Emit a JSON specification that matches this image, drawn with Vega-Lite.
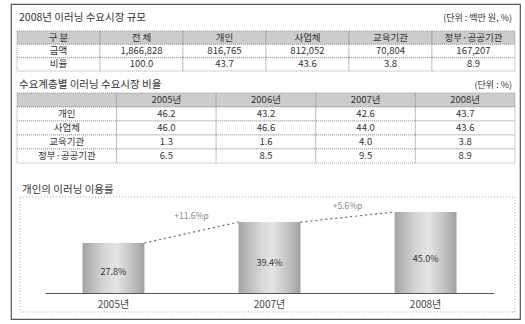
{
  "$schema": "https://vega.github.io/schema/vega-lite/v6.json",
  "width": 509,
  "height": 315,
  "autosize": "none",
  "padding": {"left": 11, "top": 4, "right": 5, "bottom": 5},
  "background": "white",
  "config": {
    "view": {"stroke": "#555555", "strokeWidth": 1.2},
    "font": "Noto Sans CJK KR",
    "text": {"font": "Noto Sans CJK KR", "color": "#333333"}
  },
  "resolve": {"scale": {"x": "independent", "y": "independent"}},
  "layer": [
    {
      "data": {"values": [
        {"r": "title", "c": "구분", "t": "2008년 이러닝 수요시장 규모", "k": "title"},
        {"r": "title", "c": "정부·공공기관", "t": "(단위 : 백만 원, %)", "k": "unit"},
        {"r": "head", "c": "구분", "t": "구 분", "k": "cell"},
        {"r": "head", "c": "전체", "t": "전 체", "k": "cell"},
        {"r": "head", "c": "개인", "t": "개인", "k": "cell"},
        {"r": "head", "c": "사업체", "t": "사업체", "k": "cell"},
        {"r": "head", "c": "교육기관", "t": "교육기관", "k": "cell"},
        {"r": "head", "c": "정부·공공기관", "t": "정부·공공기관", "k": "cell"},
        {"r": "금액", "c": "구분", "t": "금액", "k": "cell"},
        {"r": "금액", "c": "전체", "t": "1,866,828", "k": "cell"},
        {"r": "금액", "c": "개인", "t": "816,765", "k": "cell"},
        {"r": "금액", "c": "사업체", "t": "812,052", "k": "cell"},
        {"r": "금액", "c": "교육기관", "t": "70,804", "k": "cell"},
        {"r": "금액", "c": "정부·공공기관", "t": "167,207", "k": "cell"},
        {"r": "비율", "c": "구분", "t": "비율", "k": "cell"},
        {"r": "비율", "c": "전체", "t": "100.0", "k": "cell"},
        {"r": "비율", "c": "개인", "t": "43.7", "k": "cell"},
        {"r": "비율", "c": "사업체", "t": "43.6", "k": "cell"},
        {"r": "비율", "c": "교육기관", "t": "3.8", "k": "cell"},
        {"r": "비율", "c": "정부·공공기관", "t": "8.9", "k": "cell"}
      ]},
      "encoding": {
        "x": {"field": "c", "type": "nominal", "axis": null,
              "scale": {"domain": ["구분", "전체", "개인", "사업체", "교육기관", "정부·공공기관"], "range": [6, 504], "paddingInner": 0, "paddingOuter": 0}},
        "y": {"field": "r", "type": "nominal", "axis": null,
              "scale": {"domain": ["title", "head", "금액", "비율"], "range": [13.7, 67], "paddingInner": 0, "paddingOuter": 0}}
      },
      "layer": [
        {
          "transform": [{"filter": "datum.k === 'cell'"}],
          "mark": {"type": "rect", "stroke": "#888888", "strokeWidth": 0.8, "strokeDash": [1, 1]},
          "encoding": {"fill": {"condition": {"test": "datum.r === 'head'", "value": "#cccccc"}, "value": "#ffffff"}}
        },
        {
          "transform": [{"filter": "datum.k === 'cell'"}],
          "mark": {"type": "text", "fontSize": 9.5},
          "encoding": {"text": {"field": "t"}}
        },
        {
          "transform": [{"filter": "datum.k === 'title'"}],
          "mark": {"type": "text", "align": "left", "dx": 2, "dy": -6, "fontSize": 10.5},
          "encoding": {"x": {"field": "c", "type": "nominal", "bandPosition": 0}, "text": {"field": "t"}}
        },
        {
          "transform": [{"filter": "datum.k === 'unit'"}],
          "mark": {"type": "text", "align": "right", "dx": -3, "dy": -6, "fontSize": 9},
          "encoding": {"x": {"field": "c", "type": "nominal", "bandPosition": 1}, "text": {"field": "t"}}
        }
      ]
    },
    {
      "data": {"values": [
        {"r": "title", "c": "구분", "t": "수요계층별 이러닝 수요시장 비율", "k": "title"},
        {"r": "title", "c": "2008년", "t": "(단위 : %)", "k": "unit"},
        {"r": "head", "c": "구분", "t": "", "k": "cell"},
        {"r": "head", "c": "2005년", "t": "2005년", "k": "cell"},
        {"r": "head", "c": "2006년", "t": "2006년", "k": "cell"},
        {"r": "head", "c": "2007년", "t": "2007년", "k": "cell"},
        {"r": "head", "c": "2008년", "t": "2008년", "k": "cell"},
        {"r": "개인", "c": "구분", "t": "개인", "k": "cell"},
        {"r": "개인", "c": "2005년", "t": "46.2", "k": "cell"},
        {"r": "개인", "c": "2006년", "t": "43.2", "k": "cell"},
        {"r": "개인", "c": "2007년", "t": "42.6", "k": "cell"},
        {"r": "개인", "c": "2008년", "t": "43.7", "k": "cell"},
        {"r": "사업체", "c": "구분", "t": "사업체", "k": "cell"},
        {"r": "사업체", "c": "2005년", "t": "46.0", "k": "cell"},
        {"r": "사업체", "c": "2006년", "t": "46.6", "k": "cell"},
        {"r": "사업체", "c": "2007년", "t": "44.0", "k": "cell"},
        {"r": "사업체", "c": "2008년", "t": "43.6", "k": "cell"},
        {"r": "교육기관", "c": "구분", "t": "교육기관", "k": "cell"},
        {"r": "교육기관", "c": "2005년", "t": "1.3", "k": "cell"},
        {"r": "교육기관", "c": "2006년", "t": "1.6", "k": "cell"},
        {"r": "교육기관", "c": "2007년", "t": "4.0", "k": "cell"},
        {"r": "교육기관", "c": "2008년", "t": "3.8", "k": "cell"},
        {"r": "정부·공공기관", "c": "구분", "t": "정부·공공기관", "k": "cell"},
        {"r": "정부·공공기관", "c": "2005년", "t": "6.5", "k": "cell"},
        {"r": "정부·공공기관", "c": "2006년", "t": "8.5", "k": "cell"},
        {"r": "정부·공공기관", "c": "2007년", "t": "9.5", "k": "cell"},
        {"r": "정부·공공기관", "c": "2008년", "t": "8.9", "k": "cell"}
      ]},
      "encoding": {
        "x": {"field": "c", "type": "nominal", "axis": null,
              "scale": {"domain": ["구분", "2005년", "2006년", "2007년", "2008년"], "range": [6, 504], "paddingInner": 0, "paddingOuter": 0}},
        "y": {"field": "r", "type": "nominal", "axis": null,
              "scale": {"domain": ["title", "head", "개인", "사업체", "교육기관", "정부·공공기관"], "range": [75, 159], "paddingInner": 0, "paddingOuter": 0}}
      },
      "layer": [
        {
          "transform": [{"filter": "datum.k === 'cell'"}],
          "mark": {"type": "rect", "stroke": "#888888", "strokeWidth": 0.8, "strokeDash": [1, 1]},
          "encoding": {"fill": {"condition": {"test": "datum.r === 'head'", "value": "#cccccc"}, "value": "#ffffff"}}
        },
        {
          "transform": [{"filter": "datum.k === 'cell'"}],
          "mark": {"type": "text", "fontSize": 9.5},
          "encoding": {"text": {"field": "t"}}
        },
        {
          "transform": [{"filter": "datum.k === 'title'"}],
          "mark": {"type": "text", "align": "left", "dx": 2, "dy": -1, "fontSize": 10.5},
          "encoding": {"x": {"field": "c", "type": "nominal", "bandPosition": 0}, "text": {"field": "t"}}
        },
        {
          "transform": [{"filter": "datum.k === 'unit'"}],
          "mark": {"type": "text", "align": "right", "dx": -3, "dy": -1, "fontSize": 9},
          "encoding": {"x": {"field": "c", "type": "nominal", "bandPosition": 1}, "text": {"field": "t"}}
        }
      ]
    },
    {
      "data": {"values": [{"b": "box", "t": "개인의 이러닝 이용률"}]},
      "encoding": {
        "x": {"field": "b", "type": "nominal", "axis": null,
              "scale": {"domain": ["box"], "range": [9, 504], "paddingInner": 0, "paddingOuter": 0}},
        "y": {"field": "b", "type": "nominal", "axis": null,
              "scale": {"domain": ["box"], "range": [193, 308], "paddingInner": 0, "paddingOuter": 0}}
      },
      "layer": [
        {"mark": {"type": "rect", "fill": null, "stroke": "#999999", "strokeWidth": 0.8, "strokeDash": [1, 2]}},
        {
          "mark": {"type": "text", "align": "left", "dx": 2, "dy": -7, "fontSize": 10.5},
          "encoding": {
            "x": {"field": "b", "type": "nominal", "bandPosition": 0},
            "y": {"field": "b", "type": "nominal", "bandPosition": 0},
            "text": {"field": "t"}
          }
        }
      ]
    },
    {
      "resolve": {"scale": {"y": "independent"}},
      "layer": [
        {
          "layer": [
            {
              "data": {"values": [
                {"year": "2005년", "value": 27.8, "label": "27.8%"},
                {"year": "2007년", "value": 39.4, "label": "39.4%"},
                {"year": "2008년", "value": 45.0, "label": "45.0%"}
              ]},
              "mark": {"type": "bar", "color": {"gradient": "linear", "x1": 0, "y1": 0, "x2": 1, "y2": 0,
                "stops": [{"offset": 0, "color": "#a4a4a4"}, {"offset": 0.35, "color": "#d6d6d6"}, {"offset": 0.55, "color": "#e4e4e4"}, {"offset": 0.8, "color": "#c2c2c2"}, {"offset": 1, "color": "#a0a0a0"}]}},
              "encoding": {
                "x": {"field": "year", "type": "nominal", "sort": null,
                      "scale": {"domain": ["2005년", "2007년", "2008년"], "range": [34, 483], "paddingInner": 0.603, "paddingOuter": 0.24},
                      "axis": {"title": null, "offset": -26, "labelAngle": 0, "ticks": false, "labelPadding": 6, "labelFontSize": 10, "labelColor": "#444444", "domainColor": "#555555", "domainWidth": 1.2, "labelFont": "Noto Sans CJK KR"}},
                "y": {"field": "value", "type": "quantitative", "axis": null,
                      "scale": {"domain": [0, 50], "range": [289, 199], "zero": true, "nice": false}}
              }
            },
            {
              "data": {"values": [
                {"from": "2005년", "to": "2007년", "v1": 27.8, "v2": 39.4, "d": "+11.6%p"},
                {"from": "2007년", "to": "2008년", "v1": 39.4, "v2": 45.0, "d": "+5.6%p"}
              ]},
              "layer": [
                {
                  "mark": {"type": "rule", "strokeDash": [2, 3], "color": "#666666", "strokeWidth": 1.2},
                  "encoding": {
                    "x": {"field": "from", "type": "nominal", "bandPosition": 1},
                    "x2": {"field": "to", "bandPosition": 0},
                    "y": {"field": "v1", "type": "quantitative"},
                    "y2": {"field": "v2"}
                  }
                },
                {
                  "mark": {"type": "text", "dy": -6, "fontSize": 8.5, "color": "#888888"},
                  "encoding": {
                    "x": {"field": "from", "type": "nominal", "bandPosition": 1.76},
                    "y": {"field": "v2", "type": "quantitative"},
                    "text": {"field": "d"}
                  }
                }
              ]
            }
          ]
        },
        {
          "data": {"values": [
            {"year": "2005년", "value": 27.8, "label": "27.8%"},
            {"year": "2007년", "value": 39.4, "label": "39.4%"},
            {"year": "2008년", "value": 45.0, "label": "45.0%"}
          ]},
          "mark": {"type": "text", "fontSize": 9, "color": "#333333"},
          "encoding": {
            "x": {"field": "year", "type": "nominal"},
            "y": {"field": "value", "type": "quantitative", "axis": null,
                  "scale": {"domain": [0, 119], "range": [289, 199], "zero": true, "nice": false}},
            "text": {"field": "label"}
          }
        }
      ]
    }
  ]
}
